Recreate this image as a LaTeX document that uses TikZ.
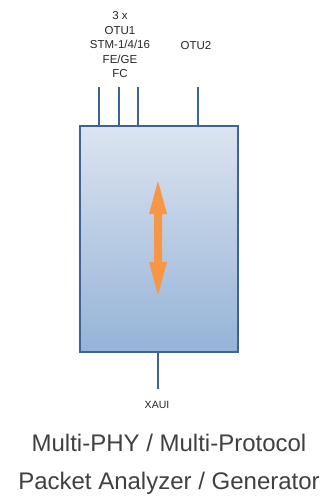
\documentclass[tikz,border=0pt]{standalone}
\usepackage{fontspec}
\setmainfont{Liberation Sans}
\begin{document}
\begin{tikzpicture}[x=1pt,y=-1pt,
  wire/.style={draw=wirecol,line width=1.6pt},
  lbl/.style={font=\fontsize{11.5}{14.5}\selectfont,text=black!85,align=center,inner sep=0pt},
  title/.style={font=\fontsize{24}{38}\selectfont,text=black!75,align=center,inner sep=0pt}]
\definecolor{wirecol}{HTML}{3C6496}
\definecolor{topfill}{HTML}{DCE4F0}
\definecolor{botfill}{HTML}{95B3D7}
\definecolor{arrcol}{HTML}{F79646}
\useasboundingbox (0,0) rectangle (326,496);
\node[draw=wirecol,line width=1.6pt,top color=topfill,bottom color=botfill,
  minimum width=158pt,minimum height=226pt,inner sep=0pt,anchor=north west] (box) at (79,125) {};
\coordinate (t1) at (99,87);
\coordinate (t2) at (119,87);
\coordinate (t3) at (138,87);
\coordinate (t4) at (198,87);
\coordinate (b1) at (158,389);
\draw[wire] (t1) -- (t1 |- box.north);
\draw[wire] (t2) -- (t2 |- box.north);
\draw[wire] (t3) -- (t3 |- box.north);
\draw[wire] (t4) -- (t4 |- box.north);
\draw[wire] (box.south -| b1) -- (b1);
\node[lbl] (l1) at (120,45) {3 x\\OTU1\\STM-1/4/16\\FE/GE\\FC};
\node[lbl] (l2) at (196,46) {OTU2};
\node[lbl,font=\fontsize{10.5}{12}\selectfont] (l3) at (157,405) {XAUI};
\node[title] (tt) at (169,464) {Multi-PHY / Multi-Protocol\\Packet Analyzer / Generator};
\fill[arrcol] (158,181) -- (167,214) -- (162,214) -- (162,262) -- (167,262) -- (158,295)
  -- (149,262) -- (154,262) -- (154,214) -- (149,214) -- cycle;
\end{tikzpicture}
\end{document}
